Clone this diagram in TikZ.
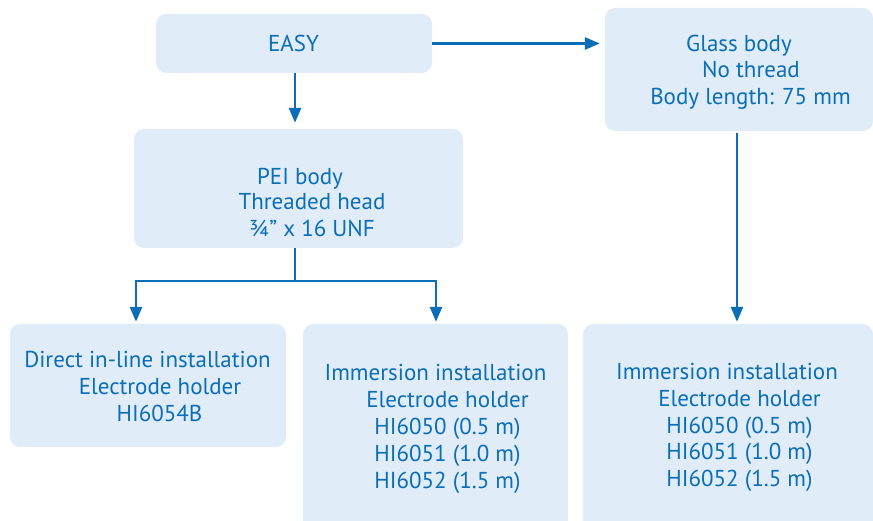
\documentclass[tikz,border=0pt]{standalone}
\usepackage{fontspec}
\setmainfont{PT Sans}
\usetikzlibrary{arrows.meta}
\definecolor{boxfill}{RGB}{224,236,248}
\definecolor{ink}{RGB}{10,110,184}
\tikzset{
  box/.style={fill=boxfill, draw=none, rounded corners=10pt, inner sep=0pt},
  txt/.style={text=ink, font=\fontsize{23}{27}\selectfont, anchor=base, inner sep=0pt},
  conn/.style={draw=ink, line width=2.8pt},
  arr/.style={conn, -{Triangle[length=15pt,width=12pt]}, shorten >=2pt}
}
\begin{document}
\begin{tikzpicture}[x=1pt,y=-1pt]
\useasboundingbox (0,0) rectangle (873,521);
\clip (0,0) rectangle (873,521);
% boxes
\node[box, minimum width=276pt, minimum height=59pt] (easy) at (294,43.5) {};
\node[box, minimum width=329pt, minimum height=119pt] (pei) at (298.5,188.5) {};
\node[box, minimum width=268pt, minimum height=123pt] (glass) at (739,69.5) {};
\node[box, minimum width=276pt, minimum height=123pt] (direct) at (148,385.5) {};
\node[box, minimum width=265pt, minimum height=240pt] (imma) at (435.5,444) {};
\node[box, minimum width=290pt, minimum height=240pt] (immb) at (728,444) {};
% texts
\node[txt] (t1) at (293.5,52) {EASY};
\node[txt] (t2) at (739,52) {Glass body};
\node[txt] (t3) at (751,78) {No thread};
\node[txt] (t4) at (750.5,105) {Body length: 75 mm};
\node[txt] (t5) at (300,185) {PEI body};
\node[txt] (t6) at (312,210) {Threaded head};
\node[txt] (t7) at (312,237) {¾” x 16 UNF};
\node[txt] (t8) at (147.5,367) {Direct in-line installation};
\node[txt] (t9) at (160,394) {Electrode holder};
\node[txt] (t10) at (159.5,421) {HI6054B};
\node[txt] (t11) at (435.5,380) {Immersion installation};
\node[txt] (t12) at (447.5,407) {Electrode holder};
\node[txt] (t13) at (447.5,434) {HI6050 (0.5 m)};
\node[txt] (t14) at (447.5,461) {HI6051 (1.0 m)};
\node[txt] (t15) at (447.5,488) {HI6052 (1.5 m)};
\node[txt] (t16) at (727,379) {Immersion installation};
\node[txt] (t17) at (739.5,406) {Electrode holder};
\node[txt] (t18) at (739.5,433) {HI6050 (0.5 m)};
\node[txt] (t19) at (739.5,459) {HI6051 (1.0 m)};
\node[txt] (t20) at (739.5,486) {HI6052 (1.5 m)};
% connectors
\draw[arr, shorten >=6pt] ([xshift=1pt]easy.south) -- ([xshift=1pt]easy.south |- pei.north);
\draw[arr, shorten >=5pt] (easy.east) -- (easy.east -| glass.west);
\draw[arr, shorten <=2pt] ([xshift=-2pt]glass.south) -- ([xshift=-2pt]glass.south |- immb.north);
\coordinate (j) at ([xshift=-3.5pt]pei.south |- 0,281);
\draw[conn] ([xshift=-3.5pt]pei.south) -- (j);
\draw[arr] (j) -| ([xshift=-12pt]direct.north);
\draw[arr] (j) -| ([xshift=0.5pt]imma.north);
\end{tikzpicture}
\end{document}
